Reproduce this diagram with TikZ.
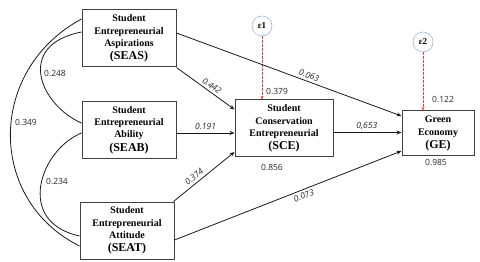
\documentclass[tikz,border=0pt]{standalone}
\usepackage{fontspec}
\setmainfont{Liberation Serif}
\newfontfamily\numfont{Open Sans}
\usetikzlibrary{arrows.meta}
\definecolor{boxline}{HTML}{404040}
\definecolor{errblue}{HTML}{9DBBDD}
\definecolor{errred}{HTML}{F03A3A}
\begin{document}
\begin{tikzpicture}[x=1pt,y=-1pt,
  box/.style={draw=boxline,line width=1pt,minimum width=94pt,minimum height=57pt,inner sep=0pt,align=center,font=\bfseries\fontsize{10}{12.3}\selectfont},
  arr/.style={draw=black!90,line width=0.8pt,-{Stealth[length=5pt,width=4pt]}},
  cor/.style={draw=black!90,line width=0.8pt},
  num/.style={font=\numfont\fontsize{8.5}{10}\selectfont,inner sep=1pt,text=black!85},
  coef/.style={font=\numfont\itshape\fontsize{8.5}{10}\selectfont,inner sep=2.5pt,text=black!85,sloped},
  err/.style={circle,draw=errblue,line width=0.6pt,minimum size=20pt,inner sep=0pt,font=\bfseries\fontsize{9}{10}\selectfont},
  dsh/.style={draw=errred,dashed,dash pattern=on 2.5pt off 1.5pt,line width=0.6pt,-{Stealth[length=3.5pt,width=3pt]}}
]
\useasboundingbox (0,0) rectangle (480,262);

\node[box] (SEAS) at (129,38.5) {Student\\Entrepreneurial\\Aspirations\\[1pt]\fontsize{12}{14}\selectfont (SEAS)};
\node[box] (SEAB) at (129,130) {Student\\Entrepreneurial\\Ability\\[1pt]\fontsize{12}{14}\selectfont (SEAB)};
\node[box] (SEAT) at (127,230.5) {Student\\Entrepreneurial\\Attitude\\[1pt]\fontsize{12}{14}\selectfont (SEAT)};
\node[box,minimum width=98pt] (SCE) at (284,128.5) {Student\\Conservation\\Entrepreneurial\\[1pt]\fontsize{12}{14}\selectfont (SCE)};
\node[box,minimum width=72pt,minimum height=45pt] (GE) at (438,133.5) {Green\\Economy\\[1pt]\fontsize{12}{14}\selectfont (GE)};

\node[err] (E1) at (262,26) {ε1};
\node[err] (E2) at (423,42) {ε2};

% residual arrows
\draw[dsh] (E1) -- (E1 |- SCE.north);
\draw[dsh] (E2) -- (E2 |- GE.north);
\node[num,anchor=west] (l379) at (265,91) {0.379};
\node[num,anchor=west] (l122) at (431,99) {0.122};
\node[num] (l856) at (272,167) {0.856};
\node[num] (l985) at (436,162) {0.985};

% paths
\draw[arr] ([yshift=5.5pt]SEAS.east) -- node[coef,above,pos=0.58] {0.063} ([yshift=17.5pt]GE.west);
\draw[arr] (SEAS.south east) -- node[coef,above,pos=0.55] {0.442} ([yshift=19pt]SCE.west);
\draw[arr] ([yshift=-3pt]SEAB.east) -- node[coef,above,pos=0.5] {0.191} ([yshift=-3pt]SEAB.east -| SCE.west);
\draw[arr] ([xshift=-1pt]SEAT.north east) -- node[coef,above,pos=0.4] {0.374} ([yshift=-23.5pt]SCE.west);
\draw[arr] ([yshift=-4pt]SCE.east) -- node[coef,above,pos=0.49] {0,653} ([yshift=-4pt]SCE.east -| GE.west);
\draw[arr] ([yshift=-9.5pt]SEAT.east) -- node[coef,below,pos=0.56] {0.073} ([yshift=-17.5pt]GE.west);

% correlations
\coordinate (c1a) at ([yshift=19.5pt]SEAS.west);
\coordinate (c1b) at ([yshift=-15.5pt]SEAT.west);
\coordinate (c2a) at ([yshift=6.5pt]SEAS.west);
\coordinate (c2b) at ([yshift=7pt]SEAB.west);
\coordinate (c3a) at ([yshift=-3pt]SEAB.west);
\coordinate (c3b) at ([yshift=-5.5pt]SEAT.west);
\draw[cor] (c1a) .. controls (-13,70) and (-13,200) .. (c1b);
\draw[cor] (c2a) .. controls (15,45) and (40,105) .. (c2b);
\draw[cor] (c3a) .. controls (40,150) and (15,222) .. (c3b);
\node[num] (l248) at (55,73) {0.248};
\node[num] (l349) at (26,122) {0.349};
\node[num] (l234) at (57,181) {0.234};
\end{tikzpicture}
\end{document}
